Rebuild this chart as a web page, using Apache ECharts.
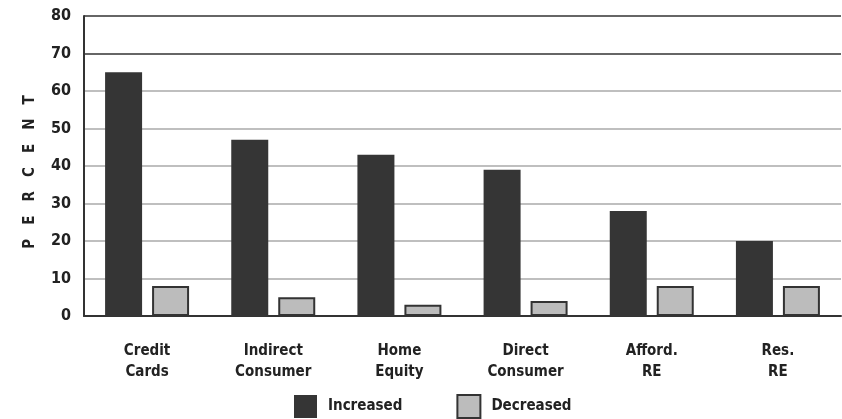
<!DOCTYPE html>
<html>
<head>
<meta charset="utf-8">
<script src="https://cdn.jsdelivr.net/npm/echarts@6/dist/echarts.min.js"></script>
<style>
html,body{margin:0;padding:0;background:#fff;}
#chart{width:842px;height:419px;}
</style>
</head>
<body>
<div id="chart"></div>
<script>
var categories = ['Credit\nCards', 'Indirect\nConsumer', 'Home\nEquity', 'Direct\nConsumer', 'Afford.\nRE', 'Res.\nRE'];
var increased = [65, 47, 43, 39, 28, 20];
var decreased = [8, 5, 3, 4, 8, 8];
var seriesNames = ['Increased', 'Decreased'];
var yTicks = [0, 10, 20, 30, 40, 50, 60, 70, 80];

var FONT = '"DejaVu Sans Condensed", "DejaVu Sans", sans-serif';
var chart = echarts.init(document.getElementById('chart'), null, {renderer: 'canvas'});
chart.setOption({
  animation: false,
  backgroundColor: '#fff',
  textStyle: {fontFamily: FONT},
  grid: {left: 84, right: 1, top: 16, bottom: 103, containLabel: false},
  legend: {
    left: 294, top: 394, padding: 0,
    itemWidth: 23, itemHeight: 23, itemGap: 54,
    icon: 'rect',
    data: seriesNames,
    textStyle: {fontFamily: FONT, fontWeight: 'bold', fontSize: 15, color: '#222', padding: [0, 0, 0, 6]}
  },
  xAxis: {
    type: 'category',
    data: categories,
    axisLine: {lineStyle: {color: '#333', width: 2}},
    axisTick: {alignWithLabel: true, length: 6, lineStyle: {color: '#333', width: 2}},
    axisLabel: {margin: 25, fontFamily: FONT, fontWeight: 'bold', fontSize: 15, lineHeight: 21, color: '#222'}
  },
  yAxis: {
    type: 'value',
    min: yTicks[0], max: yTicks[yTicks.length - 1], interval: 10,
    name: 'P   E   R   C   E   N   T',
    nameLocation: 'middle', nameRotate: 90, nameGap: 46,
    nameTextStyle: {fontFamily: FONT, fontWeight: 'bold', fontSize: 15, color: '#222', padding: [0, 12, 0, 0]},
    axisLine: {show: true, lineStyle: {color: '#333', width: 2}},
    axisTick: {show: false},
    axisLabel: {margin: 13, fontFamily: FONT, fontWeight: 'bold', fontSize: 16, color: '#222'},
    splitLine: {lineStyle: {color: ['#333', '#aaa', '#aaa', '#aaa', '#aaa', '#aaa', '#aaa', '#333', '#333'], width: 1.5}}
  },
  series: [
    {
      name: seriesNames[0], type: 'bar', data: increased,
      barWidth: 37, barGap: '27%',
      itemStyle: {color: '#353535'}
    },
    {
      name: seriesNames[1], type: 'bar', data: decreased,
      barWidth: 37,
      itemStyle: {color: '#bcbcbc', borderColor: '#333', borderWidth: 2}
    }
  ]
});
</script>
</body>
</html>
